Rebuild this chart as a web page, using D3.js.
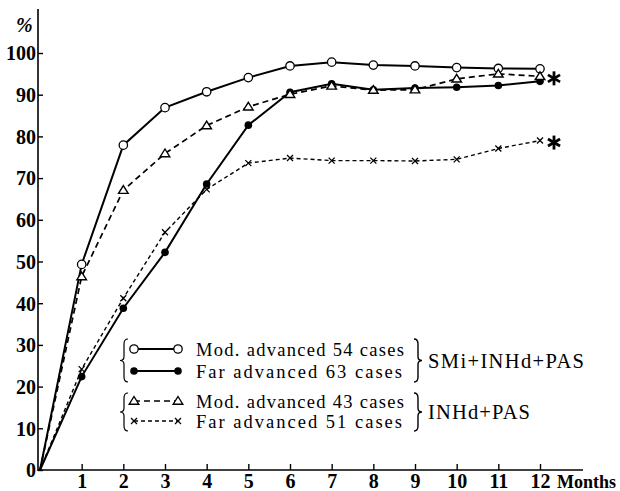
<!DOCTYPE html>
<html>
<head>
<meta charset="utf-8">
<script src="https://cdn.jsdelivr.net/npm/d3@7"></script>
<style>
  body { margin: 0; background: #fff; }
  svg { display: block; font-family: "Liberation Serif", "DejaVu Serif", serif; }
</style>
</head>
<body>
<svg width="620" height="491"></svg>
<script>
const months = [0, 1, 2, 3, 4, 5, 6, 7, 8, 9, 10, 11, 12];
const modSMi = [0, 49.3, 77.9, 86.9, 90.7, 94.1, 96.9, 97.8, 97.1, 96.9, 96.5, 96.3, 96.2];
const farSMi = [0, 22.4, 38.8, 52.2, 68.6, 82.7, 90.6, 92.6, 91.2, 91.6, 91.8, 92.2, 93.2];
const modINH = [0, 46.4, 67.1, 75.9, 82.6, 87.1, 90.1, 92.1, 91.1, 91.2, 93.8, 95.0, 94.4];
const farINH = [0, 24.2, 41.2, 57.0, 67.3, 73.6, 74.8, 74.2, 74.2, 74.1, 74.5, 77.1, 79.0];
const yTicks = [0, 10, 20, 30, 40, 50, 60, 70, 80, 90, 100];
const xTicks = [1, 2, 3, 4, 5, 6, 7, 8, 9, 10, 11, 12];
const legendLabels = ["Mod. advanced 54 cases", "Far advanced 63 cases", "Mod. advanced 43 cases", "Far advanced 51 cases"];
const groupLabels = ["SMi+INHd+PAS", "INHd+PAS"];

const svg = d3.select('svg');
const x = d3.scaleLinear().domain([0, 12]).range([40, 540]);
const y = d3.scaleLinear().domain([0, 100]).range([470, 53]);

// axes
const yAxis = svg.append('g')
    .attr('transform', 'translate(38,0)')
    .call(d3.axisLeft(y).tickValues(yTicks).tickSize(-5).tickPadding(2));
yAxis.select('.domain').remove();
svg.append('line').attr('x1', 38).attr('x2', 38).attr('y1', 9).attr('y2', 471)
    .attr('stroke', '#000').attr('stroke-width', 1.6);

const xAxis = svg.append('g')
    .attr('transform', 'translate(0,470)')
    .call(d3.axisBottom(x).tickValues(xTicks).tickSize(-6));
xAxis.select('.domain').remove();
svg.append('line').attr('x1', 38).attr('x2', 583).attr('y1', 470).attr('y2', 470)
    .attr('stroke', '#000').attr('stroke-width', 1.6);

svg.selectAll('.tick line').attr('stroke', '#000').attr('stroke-width', 1.4);
svg.selectAll('.tick text')
    .attr('fill', '#000')
    .style('font-size', '20px')
    .style('font-weight', 'bold')
    .style('font-family', '"Liberation Serif", serif');
yAxis.selectAll('.tick text').attr('dy', '0.34em');
xAxis.selectAll('.tick text').attr('y', 18).attr('dy', 0);

svg.append('text').attr('x', 16).attr('y', 32)
    .style('font-size', '20px').style('font-weight', 'bold').style('font-style', 'italic')
    .text('%');
svg.append('text').attr('x', 557).attr('y', 488)
    .style('font-size', '18px').style('font-weight', 'bold')
    .text('Months');

const series = [
    { values: modSMi, dash: null, width: 2, marker: 'open' },
    { values: farSMi, dash: null, width: 2, marker: 'filled' },
    { values: modINH, dash: '6,4', width: 1.7, marker: 'tri' },
    { values: farINH, dash: '4,3', width: 1.4, marker: 'cross' }
];

const line = d3.line().x((d, i) => x(months[i])).y(d => y(d));

function drawMarker(g, kind, cx, cy) {
    if (kind === 'open') {
        g.append('circle').attr('cx', cx).attr('cy', cy).attr('r', 4.2)
            .attr('fill', '#fff').attr('stroke', '#000').attr('stroke-width', 1.3);
    } else if (kind === 'filled') {
        g.append('circle').attr('cx', cx).attr('cy', cy).attr('r', 3.8).attr('fill', '#000');
    } else if (kind === 'tri') {
        g.append('path').attr('d', `M${cx},${cy - 4.5}L${cx + 4.8},${cy + 3.2}L${cx - 4.8},${cy + 3.2}Z`)
            .attr('fill', '#fff').attr('stroke', '#000').attr('stroke-width', 1.4);
    } else {
        g.append('path').attr('d', `M${cx - 3},${cy - 3}L${cx + 3},${cy + 3}M${cx - 3},${cy + 3}L${cx + 3},${cy - 3}`)
            .attr('stroke', '#000').attr('stroke-width', 1.3);
    }
}

series.forEach(s => {
    svg.append('path').datum(s.values)
        .attr('d', line)
        .attr('fill', 'none').attr('stroke', '#000')
        .attr('stroke-width', s.width)
        .attr('stroke-dasharray', s.dash);
});
series.forEach(s => {
    const g = svg.append('g');
    s.values.forEach((v, i) => {
        if (i === 0) return;
        drawMarker(g, s.marker, x(months[i]), y(v));
    });
});

// asterisks on the two INHd+PAS lines
[modINH, farINH].forEach(vals => {
    const cx = x(12) + 14, cy = y(vals[12]) + 2;
    const g = svg.append('g').attr('transform', `translate(${cx},${cy})`);
    [90, 30, 150].forEach(a => {
        const r = a * Math.PI / 180, dx = 7 * Math.cos(r), dy = 7 * Math.sin(r);
        g.append('line').attr('x1', -dx).attr('y1', -dy).attr('x2', dx).attr('y2', dy)
            .attr('stroke', '#000').attr('stroke-width', 2.8);
    });
});

// legend
const legY = [349, 371, 401, 421];
const leg = svg.append('g');
series.forEach((s, i) => {
    leg.append('line').attr('x1', 134).attr('x2', 178).attr('y1', legY[i]).attr('y2', legY[i])
        .attr('stroke', '#000').attr('stroke-width', s.width > 1.8 ? 1.8 : 1.3)
        .attr('stroke-dasharray', s.dash);
    drawMarker(leg, s.marker, 134, legY[i]);
    drawMarker(leg, s.marker, 178, legY[i]);
    leg.append('text').attr('x', 196).attr('y', legY[i] + 7)
        .attr('textLength', i % 2 === 0 ? 208 : 206).attr('lengthAdjust', 'spacing')
        .style('font-size', '18.5px')
        .text(legendLabels[i]);
});

function brace(x0, y0, y1, dir) {
    const m = (y0 + y1) / 2, w = 4 * dir;
    return `M${x0 + w},${y0} Q${x0},${y0} ${x0},${y0 + 5} L${x0},${m - 4} Q${x0},${m} ${x0 - w},${m}` +
        ` Q${x0},${m} ${x0},${m + 4} L${x0},${y1 - 5} Q${x0},${y1} ${x0 + w},${y1}`;
}
[[339, 382], [393, 431]].forEach((r, i) => {
    leg.append('path').attr('d', brace(124, r[0], r[1], 1))
        .attr('fill', 'none').attr('stroke', '#000').attr('stroke-width', 1.2);
    leg.append('path').attr('d', brace(418, r[0], r[1], -1))
        .attr('fill', 'none').attr('stroke', '#000').attr('stroke-width', 1.4);
    leg.append('text').attr('x', 428).attr('y', (r[0] + r[1]) / 2 + 7)
        .attr('textLength', i === 0 ? 156 : 102).attr('lengthAdjust', 'spacing')
        .style('font-size', '20.5px')
        .text(groupLabels[i]);
});
</script>
</body>
</html>
